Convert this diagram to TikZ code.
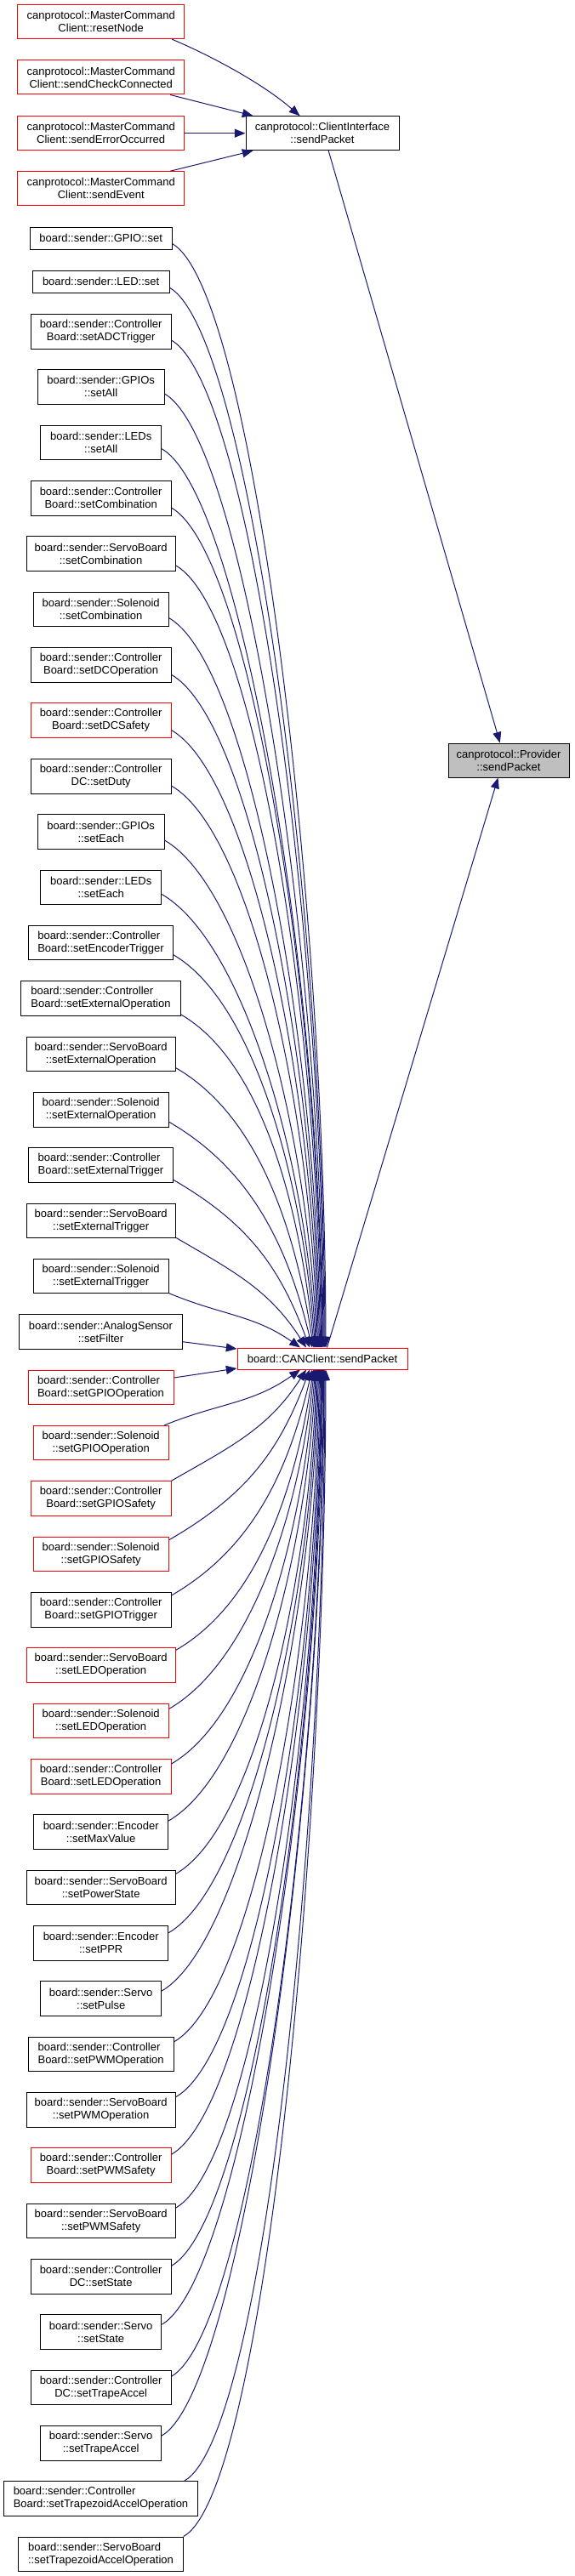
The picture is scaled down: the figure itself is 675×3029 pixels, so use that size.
\documentclass[tikz,border=0pt]{standalone}
\usepackage{fontspec}
\setmainfont{Liberation Sans}
\usetikzlibrary{arrows.meta,calc}
\definecolor{edgeblue}{RGB}{25,25,112}
\definecolor{greyfill}{RGB}{191,191,191}
\tikzset{
  box/.style={draw=black, fill=white, line width=0.75pt, inner sep=0pt, align=center,
    font=\fontsize{9.75}{11.25}\selectfont},
  redbox/.style={box, draw=red},
  lbox/.style={box, align=left},
  lredbox/.style={redbox, align=left},
  greybox/.style={box, fill=greyfill},
  edge/.style={draw=edgeblue, line width=0.75pt, -{Triangle[length=9.5pt,width=7.5pt]}},
}
\newcommand\bx[7]{\node[#6, minimum width={(#4-#2)*0.75pt}, minimum height={(#5-#3)*0.75pt}] (#1) at ({(#2+#4)/2},{(#3+#5)/2}) {#7};}
% #1 start spec, #2 sx, #3 sy, #4 ex, #5 ey, #6 anchor of cc
\newcommand\fan[6]{%
  \pgfmathsetmacro\fdx{#4-#2}%
  \pgfmathsetmacro\fdy{#5-#3}%
  \pgfmathsetmacro\fay{abs(\fdy)}%
  \pgfmathsetmacro\fsg{(\fdy<0)?-1:1}%
  \pgfmathsetmacro\fl{veclen(\fdx,\fay)}%
  \pgfmathsetmacro\fch{atan2(\fay,\fdx)}%
  \pgfmathsetmacro\fas{min(30,\fch)}%
  \pgfmathsetmacro\fae{90-(90-\fch)*exp(-\fay/300)}%
  \pgfmathsetmacro\fda{min(0.4*\fl,110)}%
  \pgfmathsetmacro\fdb{0.4*\fl}%
  \pgfmathsetmacro\fcax{#2+\fda*cos(\fas)}%
  \pgfmathsetmacro\fcay{#3+\fsg*\fda*sin(\fas)}%
  \pgfmathsetmacro\fcbx{#4-\fdb*cos(\fae)}%
  \pgfmathsetmacro\fcby{#5-\fsg*\fdb*sin(\fae)}%
  \draw[edge] (#1) .. controls (\fcax,\fcay) and (\fcbx,\fcby) .. (#4,0 |- cc.#6);%
}
\begin{document}
\begin{tikzpicture}[x=0.75pt,y=-0.75pt]
\fill[white] (0,0) rectangle (675,3029);
\useasboundingbox (0,0) rectangle (675,3029);

% top part
\bx{m1}{20.7}{5.7}{216.7}{45.7}{redbox}{canprotocol::MasterCommand\\Client::resetNode}
\bx{m2}{20.7}{71}{216.7}{111}{redbox}{canprotocol::MasterCommand\\Client::sendCheckConnected}
\bx{m3}{20.7}{136.7}{216.7}{176.7}{redbox}{canprotocol::MasterCommand\\Client::sendErrorOccurred}
\bx{m4}{20.7}{201.7}{216.7}{241.7}{redbox}{canprotocol::MasterCommand\\Client::sendEvent}
\bx{ci}{289}{136.7}{469}{176.7}{box}{canprotocol::ClientInterface\\::sendPacket}
\bx{pv}{527}{874}{669}{914}{greybox}{canprotocol::Provider\\::sendPacket}
\bx{cc}{279}{1585}{479}{1610}{redbox}{board::CANClient::sendPacket}

% left column
\bx{n1}{35}{267.3}{202.3}{293.3}{box}{board::sender::GPIO::set}
\bx{n2}{38.3}{318.3}{199}{344.3}{box}{board::sender::LED::set}
\bx{n3}{36.3}{369.3}{201}{410}{box}{board::sender::Controller\\Board::setADCTrigger}
\bx{n4}{44.3}{434.7}{193}{475}{box}{board::sender::GPIOs\\::setAll}
\bx{n5}{47.7}{500.3}{189.7}{540.7}{box}{board::sender::LEDs\\::setAll}
\bx{n6}{36.3}{565.3}{201}{606}{box}{board::sender::Controller\\Board::setCombination}
\bx{n7}{31}{630.7}{206.3}{671}{box}{board::sender::ServoBoard\\::setCombination}
\bx{n8}{39}{696.3}{198.3}{736.7}{box}{board::sender::Solenoid\\::setCombination}
\bx{n9}{36.3}{761.7}{201}{802.3}{box}{board::sender::Controller\\Board::setDCOperation}
\bx{n10}{36.3}{826.7}{201}{867.3}{redbox}{board::sender::Controller\\Board::setDCSafety}
\bx{n11}{36.3}{892.3}{201}{933}{box}{board::sender::Controller\\DC::setDuty}
\bx{n12}{44.3}{957.7}{193}{998}{box}{board::sender::GPIOs\\::setEach}
\bx{n13}{47.7}{1023}{189.7}{1063.3}{box}{board::sender::LEDs\\::setEach}
\bx{n14}{33.7}{1088.3}{203.3}{1128.7}{lbox}{board::sender::Controller\\Board::setEncoderTrigger}
\bx{n15}{24.7}{1153.7}{212.3}{1194}{lbox}{board::sender::Controller\\Board::setExternalOperation}
\bx{n16}{31}{1219}{206.3}{1259.3}{box}{board::sender::ServoBoard\\::setExternalOperation}
\bx{n17}{39}{1284.3}{198.3}{1325}{box}{board::sender::Solenoid\\::setExternalOperation}
\bx{n18}{33.7}{1349.7}{203.3}{1390}{lbox}{board::sender::Controller\\Board::setExternalTrigger}
\bx{n19}{31}{1415}{206.3}{1455.3}{box}{board::sender::ServoBoard\\::setExternalTrigger}
\bx{n20}{39}{1480.3}{198.3}{1520.7}{box}{board::sender::Solenoid\\::setExternalTrigger}
\bx{n21}{22.7}{1545.7}{214.3}{1586}{box}{board::sender::AnalogSensor\\::setFilter}
\bx{n22}{33}{1611}{204}{1651.3}{lredbox}{board::sender::Controller\\Board::setGPIOOperation}
\bx{n23}{39}{1676.3}{198.3}{1716.7}{redbox}{board::sender::Solenoid\\::setGPIOOperation}
\bx{n24}{36.3}{1741.7}{201}{1782.3}{redbox}{board::sender::Controller\\Board::setGPIOSafety}
\bx{n25}{39}{1807}{198.3}{1847.7}{redbox}{board::sender::Solenoid\\::setGPIOSafety}
\bx{n26}{36.3}{1872.3}{201}{1913}{box}{board::sender::Controller\\Board::setGPIOTrigger}
\bx{n27}{31}{1937.7}{206.3}{1978.3}{redbox}{board::sender::ServoBoard\\::setLEDOperation}
\bx{n28}{39}{2003}{198.3}{2043.7}{redbox}{board::sender::Solenoid\\::setLEDOperation}
\bx{n29}{36.3}{2068.3}{201}{2109}{redbox}{board::sender::Controller\\Board::setLEDOperation}
\bx{n30}{39.7}{2133.7}{197.7}{2174.3}{box}{board::sender::Encoder\\::setMaxValue}
\bx{n31}{31}{2199}{206.3}{2239.7}{box}{board::sender::ServoBoard\\::setPowerState}
\bx{n32}{39.7}{2264.3}{197.7}{2305}{box}{board::sender::Encoder\\::setPPR}
\bx{n33}{47.7}{2329.7}{189.7}{2370.3}{box}{board::sender::Servo\\::setPulse}
\bx{n34}{33}{2395}{204.3}{2435.7}{lbox}{board::sender::Controller\\Board::setPWMOperation}
\bx{n35}{31}{2460.3}{206.3}{2501}{box}{board::sender::ServoBoard\\::setPWMOperation}
\bx{n36}{36.3}{2525.7}{201}{2566.3}{redbox}{board::sender::Controller\\Board::setPWMSafety}
\bx{n37}{31}{2591}{206.3}{2631.7}{box}{board::sender::ServoBoard\\::setPWMSafety}
\bx{n38}{36.3}{2656.3}{201}{2697}{box}{board::sender::Controller\\DC::setState}
\bx{n39}{47.7}{2721.7}{189.7}{2762.3}{box}{board::sender::Servo\\::setState}
\bx{n40}{36.3}{2787}{201}{2827.7}{box}{board::sender::Controller\\DC::setTrapeAccel}
\bx{n41}{47.7}{2852.3}{189.7}{2893}{box}{board::sender::Servo\\::setTrapeAccel}
\bx{n42}{4.7}{2917.7}{232.3}{2958.3}{lbox}{board::sender::Controller\\Board::setTrapezoidAccelOperation}
\bx{n43}{21.3}{2983}{215.7}{3023.7}{lbox}{board::sender::ServoBoard\\::setTrapezoidAccelOperation}

% top edges
\draw[edge] ($(m1.south east)+(-15,0)$) .. controls (240,62) and (305,95) .. ($(ci.north west)+(64,0)$);
\draw[edge] ($(m2.south east)+(-17,0)$) -- ($(ci.north west)+(9,0)$);
\draw[edge] (m3.east) -- (ci.west);
\draw[edge] ($(m4.north east)+(-17,0)$) -- ($(ci.south west)+(9,0)$);
\draw[edge] ($(ci.south west)+(97.7,0)$) -- ($(pv.north west)+(61.3,0)$);
\draw[edge] ($(cc.north west)+(106,0)$) -- ($(pv.south west)+(59,0)$);

% fan into CANClient from above
\fan{n1.east |- 0,286.7}{202.3}{286.7}{383}{1585}{north}
\fan{n2.east |- 0,338.3}{199}{338.3}{382}{1585}{north}
\fan{n3.east |- 0,400}{201}{400}{381}{1585}{north}
\fan{n4.east |- 0,463}{193}{463}{380}{1585}{north}
\fan{n5.east |- 0,527.7}{189.7}{527.7}{379}{1585}{north}
\fan{n6.east |- 0,597}{201}{597}{378.5}{1585}{north}
\fan{n7.east |- 0,665}{206.3}{665}{377.5}{1585}{north}
\fan{n8.east |- 0,726.7}{198.3}{726.7}{376.5}{1585}{north}
\fan{n9.east |- 0,793.3}{201}{793.3}{375.5}{1585}{north}
\fan{n10.east |- 0,858.5}{201}{858.5}{374.5}{1585}{north}
\fan{n11.east |- 0,924}{201}{924}{373.5}{1585}{north}
\fan{n12.east |- 0,988}{193}{988}{372.5}{1585}{north}
\fan{n13.east |- 0,1051.5}{189.7}{1051.5}{371.5}{1585}{north}
\fan{n14.east |- 0,1122.7}{203.3}{1122.7}{370.5}{1585}{north}
\fan{n15.east |- 0,1193}{212.3}{1193}{369.5}{1585}{north}
\fan{n16.east |- 0,1255.7}{206.3}{1255.7}{368.5}{1585}{north}
\fan{n17.east |- 0,1319.3}{198.3}{1319.3}{367}{1585}{north}
\fan{n18.east |- 0,1387.3}{203.3}{1387.3}{364}{1585}{north}
\fan{n19.east |- 0,1455.3}{206.3}{1455.3}{360}{1585}{north}
\fan{n20.east |- 0,1520.7}{198.3}{1520.7}{353}{1585}{north}

% side edges
\draw[edge] (n21.east |- 0,1577.7) -- (cc.west |- 0,1586);
\draw[edge] (n22.east |- 0,1620) -- (cc.west |- 0,1609);

% fan into CANClient from below
\fan{193.3,0 |- n23.north}{193.3}{1676.3}{353}{1610}{south}
\fan{n24.north east}{201}{1741.7}{360}{1610}{south}
\fan{n25.east |- 0,1810.7}{198.3}{1810.7}{364}{1610}{south}
\fan{n26.east |- 0,1876}{201}{1876}{367}{1610}{south}
\fan{n27.east |- 0,1940.3}{206.3}{1940.3}{368.5}{1610}{south}
\fan{n28.east |- 0,2009.3}{198.3}{2009.3}{369.5}{1610}{south}
\fan{n29.east |- 0,2074}{201}{2074}{370.5}{1610}{south}
\fan{n30.east |- 0,2141}{197.7}{2141}{371.5}{1610}{south}
\fan{n31.east |- 0,2203.3}{206.3}{2203.3}{372.5}{1610}{south}
\fan{n32.east |- 0,2272.7}{197.7}{2272.7}{373.5}{1610}{south}
\fan{n33.east |- 0,2341}{189.7}{2341}{374.5}{1610}{south}
\fan{n34.east |- 0,2400.7}{204.3}{2400.7}{375.5}{1610}{south}
\fan{n35.east |- 0,2465.7}{206.3}{2465.7}{376.5}{1610}{south}
\fan{n36.east |- 0,2533.3}{201}{2533.3}{377.5}{1610}{south}
\fan{n37.east |- 0,2596}{206.3}{2596}{378}{1610}{south}
\fan{n38.east |- 0,2664.3}{201}{2664.3}{378.5}{1610}{south}
\fan{n39.east |- 0,2733.3}{189.7}{2733.3}{379.5}{1610}{south}
\fan{n40.east |- 0,2794.3}{201}{2794.3}{380.5}{1610}{south}
\fan{n41.east |- 0,2864}{189.7}{2864}{381}{1610}{south}
\fan{216.7,0 |- n42.north}{216.7}{2917.7}{382}{1610}{south}
\fan{215.7,0 |- n43.north}{215.7}{2985}{383}{1610}{south}
\end{tikzpicture}
\end{document}
